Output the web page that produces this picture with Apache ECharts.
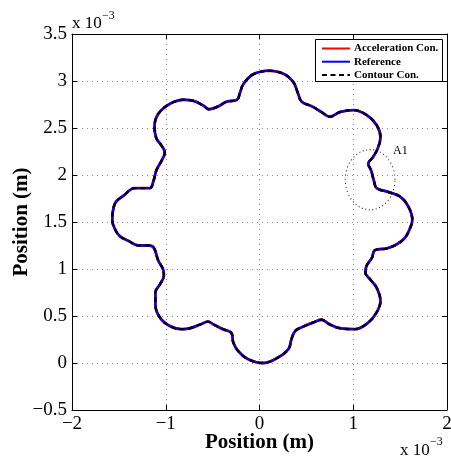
<!DOCTYPE html>
<html>
<head>
<meta charset="utf-8">
<script src="https://cdn.jsdelivr.net/npm/echarts@6/dist/echarts.min.js"></script>
<style>
  html, body { margin: 0; padding: 0; background: #fff; }
  #chart { width: 451px; height: 459px; }
</style>
</head>
<body>
<div id="chart"></div>
<script>
// contour, units of 1e-3 m (clockwise from the top lobe)
const posX = [0.09, 0.25, 0.36, 0.41, 0.45, 0.56, 0.66, 0.75, 0.86, 1.00, 1.14, 1.25, 1.29, 1.26, 1.21, 1.16,
  1.19, 1.22, 1.25, 1.37, 1.50, 1.59, 1.63, 1.60, 1.55, 1.46, 1.36, 1.23, 1.20, 1.14, 1.13, 1.18,
  1.25, 1.29, 1.25, 1.16, 1.02, 0.86, 0.75, 0.66, 0.57, 0.45, 0.38, 0.34, 0.31, 0.20, 0.04, -0.12,
  -0.23, -0.28, -0.30, -0.39, -0.49, -0.55, -0.63, -0.74, -0.83, -0.95, -1.06, -1.11, -1.11, -1.06,
  -1.02, -1.03, -1.08, -1.13, -1.19, -1.29, -1.40, -1.49, -1.54, -1.57, -1.54, -1.45, -1.33, -1.17,
  -1.13, -1.10, -1.04, -1.01, -1.05, -1.10, -1.12, -1.08, -0.95, -0.81, -0.71, -0.60, -0.54, -0.44,
  -0.35, -0.24, -0.21, -0.17, -0.07, 0.09];
const posY = [3.11, 3.08, 2.99, 2.87, 2.78, 2.73, 2.67, 2.62, 2.67, 2.69, 2.64, 2.53, 2.40, 2.28, 2.19, 2.12,
  2.05, 1.94, 1.86, 1.82, 1.77, 1.66, 1.52, 1.42, 1.33, 1.26, 1.22, 1.20, 1.12, 1.03, 0.96, 0.89,
  0.80, 0.66, 0.54, 0.43, 0.36, 0.37, 0.41, 0.46, 0.43, 0.38, 0.34, 0.25, 0.15, 0.06, 0.00, 0.04,
  0.13, 0.22, 0.32, 0.36, 0.41, 0.44, 0.41, 0.37, 0.36, 0.39, 0.48, 0.62, 0.75, 0.84,
  0.93, 1.00, 1.09, 1.23, 1.25, 1.25, 1.30, 1.35, 1.42, 1.52, 1.70, 1.78, 1.86, 1.86,
  1.94, 2.05, 2.16, 2.24, 2.32, 2.39, 2.51, 2.65, 2.76, 2.80, 2.79, 2.74, 2.70, 2.73,
  2.78, 2.80, 2.87, 2.97, 3.07, 3.11];

const seriesNames = ['Acceleration Con.', 'Reference', 'Contour Con.'];
const seriesColors = ['#ff0000', '#0000ff', '#000000'];
const xTicks = [-2, -1, 0, 1, 2];
const yTicks = [-0.5, 0, 0.5, 1, 1.5, 2, 2.5, 3, 3.5];

const pts = posX.map((x, i) => [x, posY[i]]);
const serif = '"Liberation Serif", "Times New Roman", serif';
const fmt = v => String(v).replace('-', '\u2212');

let myChart = echarts.init(document.getElementById('chart'));

const axisCommon = {
  axisLine: { show: true, onZero: false, lineStyle: { color: '#000', width: 1 } },
  axisTick: { show: true, inside: true, length: 5, lineStyle: { color: '#000' } },
};
const dotted = { show: true, lineStyle: { color: '#888', type: [1, 4], width: 1 } };
const titleStyle = { fontFamily: serif, fontWeight: 'bold', fontSize: 21, color: '#000' };

myChart.setOption({
  animation: false,
  backgroundColor: '#fff',
  grid: { left: 72, top: 34, right: 4, bottom: 49, containLabel: false, outerBoundsMode: 'none' },
  xAxis: [{
    type: 'value', min: xTicks[0], max: xTicks[xTicks.length - 1], interval: 1,
    ...axisCommon,
    axisLabel: { formatter: fmt, fontFamily: serif, fontSize: 19, color: '#000', margin: 5 },
    splitLine: dotted,
    name: 'Position (m)', nameLocation: 'middle', nameGap: 22, nameMoveOverlap: false,
    nameTextStyle: titleStyle
  }, {
    type: 'value', position: 'top', min: -2, max: 2, interval: 1,
    ...axisCommon, axisLabel: { show: false }, splitLine: { show: false }
  }],
  yAxis: [{
    type: 'value', min: yTicks[0], max: yTicks[yTicks.length - 1], interval: 0.5,
    ...axisCommon,
    axisLabel: { formatter: fmt, fontFamily: serif, fontSize: 19, color: '#000', margin: 5 },
    splitLine: dotted,
    name: 'Position (m)', nameLocation: 'middle', nameGap: 40, nameRotate: 90, nameMoveOverlap: false,
    nameTextStyle: titleStyle
  }, {
    type: 'value', position: 'right', min: -0.5, max: 3.5, interval: 0.5,
    ...axisCommon, axisLabel: { show: false }, splitLine: { show: false }
  }],
  series: [{
    name: seriesNames[0], type: 'line', data: pts, smooth: 0.4, symbol: 'none',
    lineStyle: { color: seriesColors[0], width: 2.8 }
  }, {
    name: seriesNames[1], type: 'line', data: pts, smooth: 0.4, symbol: 'none',
    lineStyle: { color: seriesColors[1], width: 2.4 }
  }, {
    name: seriesNames[2], type: 'line', data: pts, smooth: 0.4, symbol: 'none',
    lineStyle: { color: seriesColors[2], width: 2.4, type: [5, 4] }
  }]
});

// legend box drawn by hand (MATLAB style)
const legendItems = [];
seriesNames.forEach((name, i) => {
  const y = 48.5 + i * 13.2;
  legendItems.push({
    type: 'line', shape: { x1: 322, y1: y, x2: 350, y2: y },
    style: { stroke: seriesColors[i], lineWidth: 2, lineDash: i === 2 ? [5, 3.5] : null }
  }, {
    type: 'text', x: 354, y: y, style: {
      text: name, font: 'bold 11px ' + serif, fill: '#000', verticalAlign: 'middle'
    }
  });
});

// A1 dotted ellipse annotation + exponent labels
const c = myChart.convertToPixel({ gridIndex: 0 }, [1.18, 1.95]);
const e = myChart.convertToPixel({ gridIndex: 0 }, [1.445, 1.63]);
const rx = e[0] - c[0], ry = c[1] - e[1];
myChart.setOption({
  graphic: [{
    type: 'rect', shape: { x: 315.5, y: 39.5, width: 127, height: 42 },
    style: { fill: '#fff', stroke: '#000', lineWidth: 1 }
  }, ...legendItems, {
    type: 'circle', x: c[0], y: c[1], scaleY: ry / rx, shape: { cx: 0, cy: 0, r: rx },
    style: { fill: 'none', stroke: '#333', lineWidth: 1, lineDash: [1, 2.5] }, silent: true
  }, {
    type: 'text', x: 393, y: 145,
    style: { text: 'A1', font: '12px ' + serif, fill: '#000' }
  }, {
    type: 'text', x: 72, y: 15,
    style: { text: 'x 10', font: '17px ' + serif, fill: '#000' }
  }, {
    type: 'text', x: 102, y: 10,
    style: { text: '\u22123', font: '12px ' + serif, fill: '#000' }
  }, {
    type: 'text', x: 400, y: 442,
    style: { text: 'x 10', font: '17px ' + serif, fill: '#000' }
  }, {
    type: 'text', x: 430, y: 436,
    style: { text: '\u22123', font: '12px ' + serif, fill: '#000' }
  }]
});
</script>
</body>
</html>
